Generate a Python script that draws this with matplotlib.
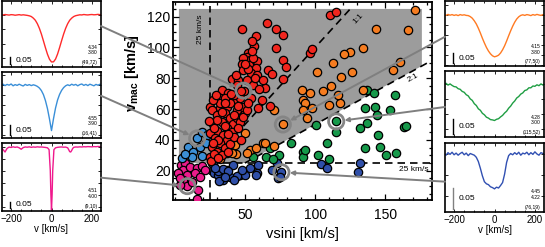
import matplotlib
matplotlib.use("Agg")
import matplotlib.pyplot as plt
from matplotlib.patches import Polygon, ConnectionPatch
from matplotlib.ticker import MultipleLocator, FixedLocator

plt.rcParams['font.family'] = ['Liberation Sans', 'DejaVu Sans']
plt.rcParams['mathtext.fontset'] = 'custom'
plt.rcParams['mathtext.rm'] = 'Liberation Sans:bold'
plt.rcParams['mathtext.it'] = 'Liberation Sans:bold'
plt.rcParams['mathtext.bf'] = 'Liberation Sans:bold'

# ---------------- main scatter data ----------------
red_vsini = [110.4,115.2,65.4,71.8,77.3,47.6,57.6,56.4,71.8,96.2,97.9,52.4,51.2,53.6,48.3,58.3,77.3,79.6,47.6,53.1,
             57.8,48.8,66.6,69,54,58.3,40.5,45.3,51.2,77.3,44.5,55.5,64.2,33.4,38.2,32.2,42.9,25.1,32.2,37.4,
             59.5,44.1,50,49,26.3,30.3,35.8,39.3,33.4,27.5,41.7,37,30.3,25.1,34.6,40.5,28.7,37.4,32.2,26.3,
             35.8,29.8,25.1,33.4,39.3,42.2,44.1,46.4,48.8,32.2,27.5,39.3,35.8,29.4,46.4,42.2,48.8,51.2,26,28,
             31,36,42,45,36,30,38,28,34,40,47,44,52,50,56,55,60,62,54,57,27,31,38,24.5,45,47,52,63,68,55]
red_vmac = [121.1,123.2,116.1,111.8,108.1,112,107.4,101.2,99.4,96.2,98.8,96.6,94,91.9,92.9,91.4,91.9,87.5,89.3,88.6,
            86.4,85.1,85.1,82.8,83.2,82.1,79.3,78.9,78.9,79.3,75.6,75.6,73.5,72.4,70.2,67,65.9,61.1,60.5,61.6,
            60.5,59.4,57.2,72,59.4,56.1,57.2,54,51.8,50.3,50.3,47.5,46,44.2,43.2,45.3,41,39.9,37.8,35.6,
            34.5,32.3,29.1,30.2,37.3,42.1,54,51.8,55.1,63.7,65.9,63.7,67,69.1,67,69.1,61.6,59.4,26.5,31,
            40,49,56,62,64,53,44,48,58,70,72,82,86,89,93,98,73,66,67,80,38,28,32,52,48,40,64,79,62,104]

orange_vsini = [171,143.1,166.1,125,120.5,134.1,112.8,126.5,101.4,90.3,105.7,111.6,118.7,134.1,155.5,160.7,96.2,91.5,92.7,98.1,
                110,117.5,116.3,91.5,93.9,70.9,77,50,37,43.6,53.6,57.8,63,70.6,27.5,32.2,42.9,40.5,51.2,64.2]
orange_vmac = [124.3,111.8,111.4,97.3,95.8,99.4,89.7,84.3,84.3,72.4,72,75,81,72.4,85.4,90.8,70.2,66,63.7,60.5,
               62.6,63.7,69.1,59.4,54,59.4,50,44.7,31.3,30.8,33.4,34.9,38.2,36,27.4,27.4,36.7,31.7,31.7,37.7]

green_vsini = [137,141.7,156.6,135.3,142.4,144.1,153.1,115,115.2,131.8,137,144.8,146.4,163,165,108.5,135.8,150.5,157.6,82.7,
               91.5,91.5,102.1,109.9,67.8,64.9,55.9,74.2,70.1,100.9,92.7]
green_vmac = [72.4,70.2,69.1,60.5,61.6,56.1,59.4,52,45.3,47.5,50.7,43.2,35.6,48.6,49,37.8,34.5,30.2,31.3,37.8,
              32.3,28.7,30.2,27.4,34.5,29.1,29.1,30.2,27.4,49.7,33.5]

blue_vsini = [26.3,28.2,31,34.6,39.3,36.9,41.7,46.4,50,53.6,59.5,58.3,69,72.5,76,73.7,104.5,108.1,131.8,130.6,
              27.5,31,34.6,38.2,31.8,44.1,47.6,57.8,75,29,36,42]
blue_vmac = [24.8,18.3,17.2,13.9,16.1,20.4,23.7,17.2,17.2,21.5,23.7,18.3,20.4,24.8,19,15,24.3,21.5,24.8,19.4,
             24.4,20.1,21.2,19.7,13.2,16.5,20.3,17.3,16.2,22,16,14]

lblue_vsini = [16,19.2,22.7,9.7,13.3,18,5,19.2,12,22,7]
lblue_vmac = [41,45.3,43.2,35.6,32.3,35.6,28,29.5,29,38,31]

mag_vsini = [4.3,7.3,6.2,11,15.6,19.2,21.6,8.5,14.4,17.9,2.6,6.2,9,16.8,3.8,15.6,12,4]
mag_vmac = [23.7,24.8,20.4,22.6,21.5,23,20.4,17.2,18.3,16.1,18.3,13.9,10,7.4,10.7,1.5,13,15]

# highlighted stars (order: red, light blue, magenta, orange, green, blue)
hl_vsini = [49, 16, 9, 77, 115, 76]
hl_vmac = [72, 41, 10, 50, 52, 19]

x_ticks = [50, 100, 150]
y_ticks = [20, 40, 60, 80, 100, 120]

# ---------------- line profiles ----------------
vel = [-250,-240,-230,-220,-210,-200,-190,-180,-170,-160,-150,-140,-130,-120,-110,-100,-90,-80,-70,-60,
       -50,-40,-30,-20,-10,0,10,20,30,40,50,60,70,80,90,100,110,120,130,140,
       150,160,170,180,190,200,210,220,230,240,250]

flux_red = [1.001,0.999,1.002,1.000,0.998,1.001,1.000,0.997,0.999,1.001,0.998,1.000,0.998,0.996,0.993,0.988,0.977,0.962,0.938,0.906,
            0.866,0.819,0.771,0.726,0.691,0.672,0.673,0.692,0.727,0.772,0.820,0.866,0.906,0.938,0.962,0.977,0.988,0.994,0.997,1.000,
            0.999,1.002,1.000,0.999,1.001,1.002,1.000,1.001,1.003,1.001,1.002]
flux_lblue = [0.998,1.004,0.997,1.003,0.999,1.005,0.996,1.002,0.998,1.004,0.999,0.995,1.003,0.998,1.002,0.997,1.001,0.998,0.993,0.985,
              0.972,0.952,0.922,0.882,0.830,0.772,0.832,0.885,0.925,0.953,0.973,0.987,0.996,1.001,0.997,1.004,0.999,1.003,0.996,1.002,
              1.005,0.998,1.003,0.997,1.004,1.000,0.996,1.003,0.999,1.004,0.998]
flux_orange = [1.001,0.998,1.003,0.999,1.002,0.998,1.001,0.997,1.002,0.999,1.001,0.998,0.997,0.992,0.984,0.971,0.955,0.934,0.910,0.884,
               0.860,0.838,0.820,0.806,0.796,0.791,0.794,0.799,0.810,0.826,0.846,0.870,0.896,0.921,0.944,0.964,0.980,0.991,0.998,1.001,
               0.998,1.002,1.000,0.997,1.002,0.999,1.003,1.000,0.998,1.002,1.000]
flux_green = [0.999,1.003,0.997,1.001,0.996,0.992,0.991,0.985,0.983,0.976,0.973,0.965,0.961,0.951,0.946,0.935,0.929,0.918,0.913,0.903,
              0.898,0.890,0.887,0.882,0.881,0.879,0.883,0.885,0.891,0.896,0.904,0.910,0.920,0.927,0.937,0.944,0.954,0.959,0.967,0.971,
              0.979,0.981,0.988,0.988,0.994,0.993,0.998,0.995,1.001,0.997,1.002]
flux_blue = [1.002,0.997,1.003,0.999,1.004,0.998,1.002,0.997,1.001,1.004,0.998,1.002,0.996,1.001,0.999,0.997,0.992,0.982,0.966,0.948,
             0.934,0.929,0.927,0.922,0.920,0.917,0.921,0.919,0.925,0.932,0.952,0.980,0.996,1.001,0.998,1.003,0.999,1.004,0.997,1.002,
             1.000,1.004,0.998,1.003,0.999,1.005,1.000,0.997,1.003,1.001,0.998]

vel_mag = [-250,-240,-230,-220,-210,-200,-190,-180,-170,-160,-150,-140,-130,-120,-110,-100,-90,-80,-70,-60,
           -50,-40,-30,-20,-12,-6,-3,0,3,6,12,20,30,40,50,60,70,80,85,90,
           95,100,105,110,120,130,140,150,160,170,180,190,200,210,220,230,240,250]
flux_mag = [0.995,0.975,0.955,0.985,0.996,0.993,0.998,0.994,0.997,0.990,0.978,0.992,0.997,0.995,0.998,0.994,0.997,0.995,0.998,0.996,
            0.997,0.995,0.993,0.990,0.975,0.80,0.60,0.47,0.60,0.80,0.975,0.990,0.994,0.996,0.997,0.995,0.996,0.990,0.975,0.958,
            0.955,0.968,0.985,0.994,0.997,0.996,0.998,0.997,0.999,0.998,1.000,0.999,0.998,1.000,0.999,1.001,1.000,0.999]

logg_top = ["4.34", "4.55", "4.51", "4.15", "4.28", "4.45"]
logg_bot = ["3.80", "3.90", "4.00", "3.80", "3.00", "4.22"]
pair_labels = ["(49,72)", "(16,41)", "(9,10)", "(77,50)", "(115,52)", "(76,19)"]
panel_vticks = [-200, 0, 200]
panel_vlabels = ['\u2212200', '0', '200']

# ---------------- figure ----------------
W, H = 545, 247
fig = plt.figure(figsize=(W / 100, H / 100), dpi=100)

def px_axes(x0, y0, x1, y1):
    return fig.add_axes([x0 / W, 1 - y1 / H, (x1 - x0) / W, (y1 - y0) / H])

ax = px_axes(173.3, 2, 431.7, 200)
ax.set_xlim(-1, 183)
ax.set_ylim(1, 129.5)

# shaded region and guide lines
gray = Polygon([(3, 25), (50, 25), (176, 88), (176, 125), (3, 125)], closed=True,
               facecolor='#9c9c9c', edgecolor='none', zorder=0)
ax.add_patch(gray)
dash = dict(color='black', lw=1.2, ls=(0, (4.5, 3)), zorder=1)
ax.plot([25, 25], [1, 127], **dash)
ax.plot([25, 183], [25, 25], **dash)
ax.plot([25, 126], [25, 126], **dash)
ax.plot([50, 183], [25, 91.5], **dash)

ax.text(18.5, 112, '25 km/s', rotation=90, fontsize=6, ha='center', va='center')
ax.text(181, 20.5, '25 km/s', fontsize=6, ha='right', va='center')
ax.text(131, 119, '1:1', rotation=47, fontsize=6, ha='center', va='center')
ax.text(170, 80, '2:1', rotation=29, fontsize=6, ha='center', va='center')

sc = dict(s=36, edgecolors='black', linewidths=0.9, zorder=3)
ax.scatter(mag_vsini, mag_vmac, c='#ec1c8c', **sc)
ax.scatter(lblue_vsini, lblue_vmac, c='#3c8fd6', **sc)
ax.scatter(blue_vsini, blue_vmac, c='#2f4fa8', **sc)
ax.scatter(green_vsini, green_vmac, c='#16994a', **sc)
ax.scatter(orange_vsini, orange_vmac, c='#f57c20', **sc)
ax.scatter(red_vsini, red_vmac, c='#f0261e', **sc)
ax.scatter(hl_vsini, hl_vmac, s=120, facecolors='none', edgecolors='#858585', linewidths=2.0, zorder=4)

ax.xaxis.set_major_locator(FixedLocator(x_ticks))
ax.xaxis.set_minor_locator(MultipleLocator(10))
ax.yaxis.set_major_locator(FixedLocator(y_ticks))
ax.yaxis.set_minor_locator(MultipleLocator(5))
ax.tick_params(which='both', direction='in', top=True, right=True, width=0.9, labelsize=10)
ax.tick_params(which='major', length=4.5)
ax.tick_params(which='minor', length=2.2)
ax.tick_params(axis='x', pad=6)
ax.tick_params(axis='y', pad=2)
for s in ax.spines.values():
    s.set_linewidth(1.3)
ax.set_xlabel('vsini [km/s]', fontsize=10.5, labelpad=3)
ax.set_ylabel(r'v$_\mathrm{mac}$ [km/s]', fontsize=10.5, fontweight='bold')
ax.yaxis.set_label_coords(-0.125, 0.64)

# ---------------- side panels ----------------
panels = [
    # rect (px), vel, flux, color, ylim, bar color, side, connector height
    ((2, 1, 101, 67), vel, flux_red, '#ff2a2a', (0.637, 1.096), 'black', 'L', 0.62),
    ((2, 72, 101, 138), vel, flux_lblue, '#3a8fd8', (0.735, 1.065), 'black', 'L', 0.64),
    ((2, 143, 101, 211), vel_mag, flux_mag, '#f0188c', (0.464, 1.030), 'black', 'L', 0.49),
    ((445, 1, 544, 66), vel, flux_orange, '#ff7a22', (0.745, 1.070), 'black', 'R', 0.45),
    ((445, 71, 544, 137), vel, flux_green, '#1f9e43', (0.824, 1.044), 'black', 'R', 0.455),
    ((445, 143, 544, 212), vel, flux_blue, '#3150b2', (0.862, 1.026), '#808080', 'R', 0.44),
]

for i, (rect, vv, ff, col, yl, barcol, side, fy) in enumerate(panels):
    pa = px_axes(*rect)
    pa.plot(vv, ff, color=col, lw=1.0)
    pa.set_xlim(-245, 245)
    pa.set_ylim(*yl)
    pa.xaxis.set_major_locator(FixedLocator(panel_vticks))
    pa.xaxis.set_minor_locator(MultipleLocator(50))
    pa.yaxis.set_major_locator(MultipleLocator(0.1 if (yl[1] - yl[0]) > 0.4 else 0.05))
    pa.tick_params(which='both', direction='in', top=True, right=True, width=0.6, labelleft=False)
    pa.tick_params(which='major', length=2.5)
    pa.tick_params(which='minor', length=1.2)
    for s in pa.spines.values():
        s.set_linewidth(1.2)
    if rect[3] > 200:
        pa.tick_params(axis='x', labelsize=7, pad=2)
        pa.set_xticklabels(panel_vlabels)
        pa.set_xlabel('v [km/s]', fontsize=7, labelpad=0)
    else:
        pa.tick_params(axis='x', labelbottom=False)
    rng = yl[1] - yl[0]
    b0 = yl[0] + 0.045 * rng
    pa.plot([-203, -203], [b0, b0 + 0.05], color=barcol, lw=1.0)
    pa.text(-180, b0 + 0.025, '0.05', fontsize=6, ha='left', va='center')
    pa.text(0.965, 0.30, logg_top[i], transform=pa.transAxes, fontsize=3.6, ha='right', va='center')
    pa.text(0.965, 0.215, logg_bot[i], transform=pa.transAxes, fontsize=3.6, ha='right', va='center')
    pa.text(0.965, 0.07, pair_labels[i], transform=pa.transAxes, fontsize=3.6, ha='right', va='center')

    xa = 1.0 if side == 'L' else 0.0
    con = ConnectionPatch(xyA=(xa, fy), coordsA=pa.transAxes,
                          xyB=(hl_vsini[i], hl_vmac[i]), coordsB=ax.transData,
                          arrowstyle='-|>', mutation_scale=6, shrinkB=6,
                          color='#7f7f7f', lw=1.4, zorder=10)
    fig.add_artist(con)

fig.savefig('out.png', dpi=100)
